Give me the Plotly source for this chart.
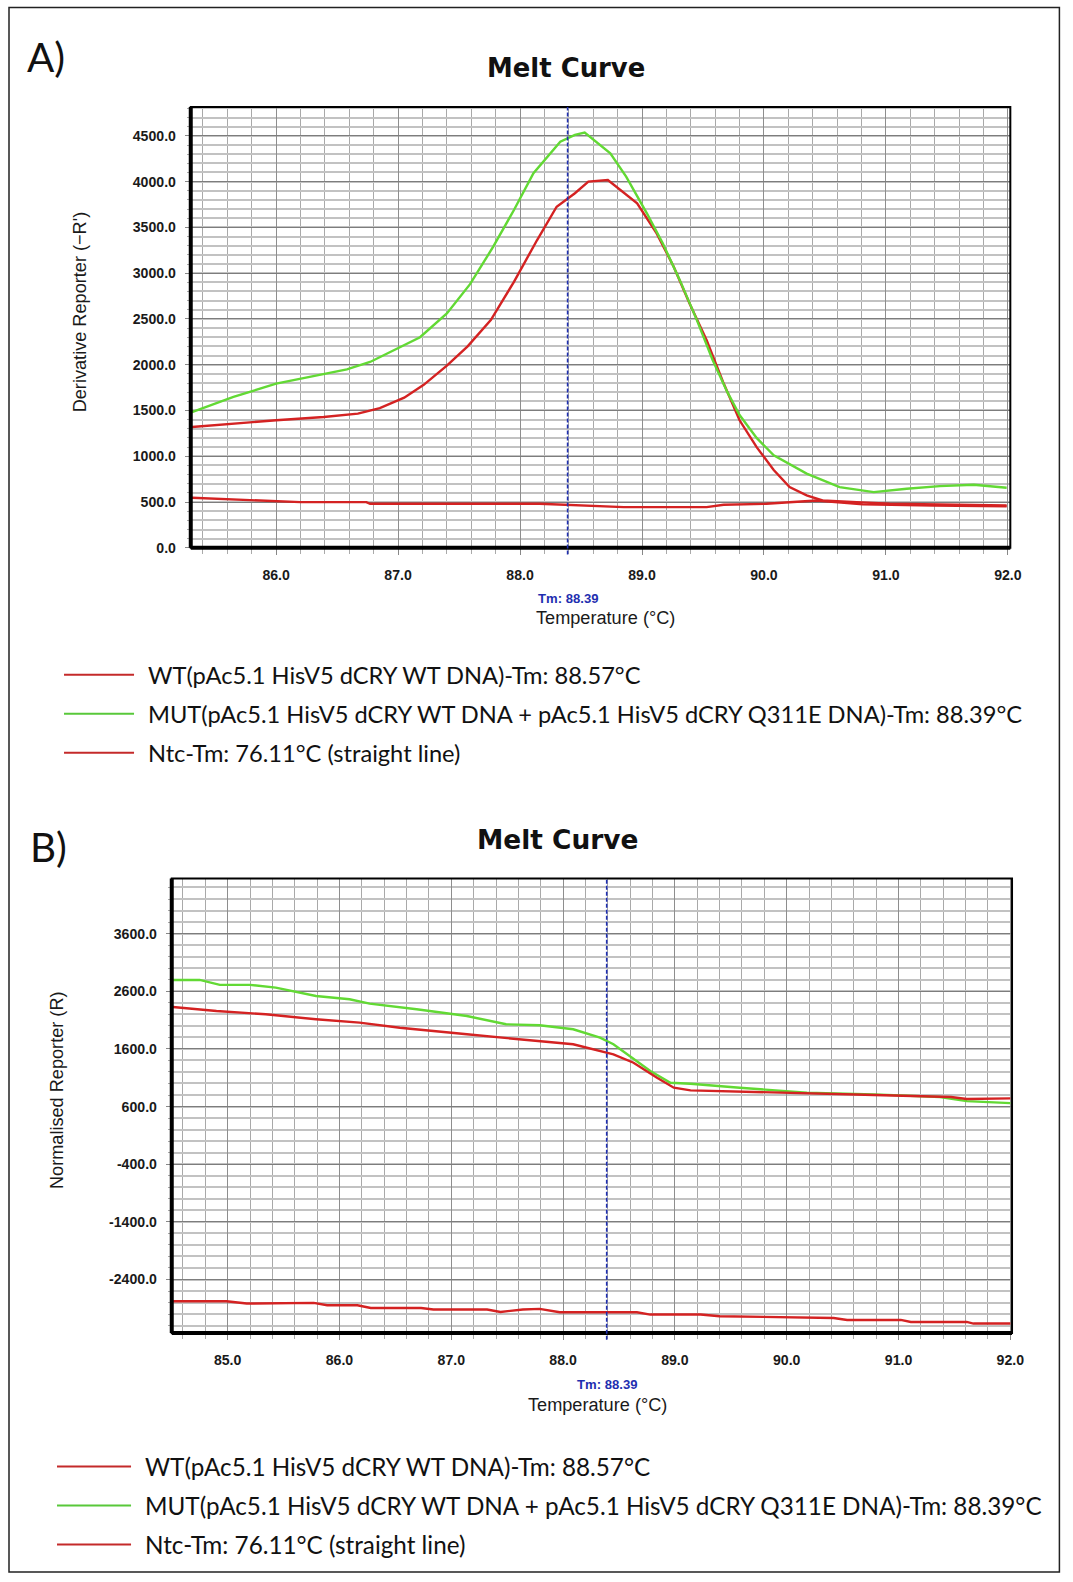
import plotly.graph_objects as go

W, H = 1073, 1582
# the captured page comes out very slightly reduced; positions below are given in
# target-picture pixels and converted with these factors
SX, SY = 0.9885, 0.994
FS = 1.0 / ((SX + SY) / 2)

# ---------------- data ----------------
TM = 88.39

# Panel A : derivative reporter (-R')
a_wt_t = [85.31, 85.65, 86.00, 86.39, 86.67, 86.85, 87.05, 87.21, 87.40, 87.57, 87.76, 87.95,
          88.14, 88.30, 88.45, 88.56, 88.72, 88.96, 89.12, 89.26, 89.39, 89.53, 89.67, 89.80,
          89.94, 90.08, 90.21, 90.35, 90.48, 90.76, 91.03, 91.44, 91.99]
a_wt_v = [1319, 1357, 1393, 1429, 1466, 1525, 1640, 1780, 1990, 2200, 2487, 2906,
          3362, 3726, 3873, 4000, 4018, 3763, 3435, 3070, 2669, 2268, 1794, 1393,
          1100, 850, 663, 572, 517, 499, 481, 474, 463]

a_mut_t = [85.31, 85.65, 86.00, 86.38, 86.58, 86.77, 87.00, 87.18, 87.40, 87.59, 87.78, 87.95,
           88.11, 88.33, 88.45, 88.53, 88.74, 88.87, 89.04, 89.17, 89.31, 89.45, 89.58, 89.70,
           89.80, 89.94, 90.08, 90.35, 90.62, 90.90, 91.17, 91.44, 91.72, 91.99]
a_mut_v = [1483, 1648, 1794, 1896, 1950, 2030, 2180, 2300, 2560, 2880, 3289, 3690,
           4091, 4437, 4511, 4536, 4310, 4054, 3654, 3326, 2924, 2487, 2049, 1700,
           1450, 1200, 1010, 810, 663, 608, 645, 674, 689, 656]

a_ntc_t = [85.31, 85.79, 86.00, 86.20, 86.74, 86.77, 87.95, 88.16, 88.85, 89.53, 89.67,
           90.02, 90.43, 90.62, 90.81, 91.39, 91.99]
a_ntc_v = [547, 525, 510, 499, 499, 481, 481, 481, 444, 444, 470,
           481, 517, 499, 474, 463, 453]

# Panel B : normalised reporter (R)
b_mut_t = [84.51, 84.75, 84.93, 85.20, 85.43, 85.58, 85.79, 86.09, 86.27, 86.69, 87.14, 87.49,
           87.79, 88.09, 88.33, 88.45, 88.63, 88.78, 88.96, 89.14, 89.58, 90.18, 90.78, 91.37,
           91.61, 92.00]
b_mut_v = [2796, 2796, 2710, 2710, 2663, 2605, 2518, 2461, 2385, 2287, 2171, 2027,
           2010, 1940, 1795, 1680, 1420, 1216, 1013, 996, 927, 840, 812, 765,
           695, 660]

b_wt_t = [84.51, 84.90, 85.34, 85.79, 86.18, 86.54, 87.14, 87.62, 87.79, 88.09, 88.45, 88.63,
          88.84, 88.99, 89.14, 89.88, 90.78, 91.47, 91.61, 92.00]
b_wt_v = [2327, 2258, 2200, 2114, 2055, 1968, 1853, 1767, 1740, 1680, 1506, 1360,
          1100, 927, 881, 840, 800, 765, 730, 741]

b_ntc_t = [84.51, 84.99, 85.17, 85.77, 85.89, 86.16, 86.28, 86.73, 86.84, 87.32, 87.44, 87.64,
           87.79, 87.97, 88.66, 88.78, 89.23, 89.40, 90.42, 90.54, 91.02, 91.11, 91.61, 91.67,
           92.00]
b_ntc_v = [-2777, -2777, -2817, -2806, -2846, -2846, -2893, -2893, -2921, -2921, -2962, -2921,
           -2910, -2968, -2968, -3008, -3008, -3037, -3067, -3101, -3101, -3136, -3136, -3164,
           -3164]

# tick labels
a_xticks = [86.0, 87.0, 88.0, 89.0, 90.0, 91.0, 92.0]
a_xlabels = ["86.0", "87.0", "88.0", "89.0", "90.0", "91.0", "92.0"]
a_yticks = [0, 500, 1000, 1500, 2000, 2500, 3000, 3500, 4000, 4500]
a_ylabels = ["0.0", "500.0", "1000.0", "1500.0", "2000.0", "2500.0", "3000.0", "3500.0", "4000.0", "4500.0"]
b_xticks = [85.0, 86.0, 87.0, 88.0, 89.0, 90.0, 91.0, 92.0]
b_xlabels = ["85.0", "86.0", "87.0", "88.0", "89.0", "90.0", "91.0", "92.0"]
b_yticks = [-2400, -1400, -400, 600, 1600, 2600, 3600]
b_ylabels = ["-2400.0", "-1400.0", "-400.0", "600.0", "1600.0", "2600.0", "3600.0"]

legend_labels = ["WT(pAc5.1 HisV5 dCRY WT DNA)-Tm: 88.57°C",
                 "MUT(pAc5.1 HisV5 dCRY WT DNA + pAc5.1 HisV5 dCRY Q311E DNA)-Tm: 88.39°C",
                 "Ntc-Tm: 76.11°C (straight line)"]

RED = "#d42222"
GREEN = "#62d934"
BLUE = "#1f2fb0"
legend_colors = ["#c42a2a", "#58c83a", "#c42a2a"]

# ---------------- figure ----------------
fig = go.Figure()


def px_x(p):
    return min(1.0, max(0.0, p / (SX * W)))


def px_y(p):
    return min(1.0, max(0.0, 1 - p / (SY * H)))


line_w = 2.4
for t, v, c in [(a_ntc_t, a_ntc_v, RED), (a_wt_t, a_wt_v, RED), (a_mut_t, a_mut_v, GREEN)]:
    fig.add_trace(go.Scatter(x=t, y=v, mode="lines", line=dict(color=c, width=line_w),
                             xaxis="x", yaxis="y", showlegend=False, hoverinfo="skip"))
for t, v, c in [(b_ntc_t, b_ntc_v, RED), (b_mut_t, b_mut_v, GREEN), (b_wt_t, b_wt_v, RED)]:
    fig.add_trace(go.Scatter(x=t, y=v, mode="lines", line=dict(color=c, width=line_w),
                             xaxis="x2", yaxis="y2", showlegend=False, hoverinfo="skip"))

tickfont = dict(family="Liberation Sans, Arial", size=14 * FS, color="#1a1a1a", weight="bold")


def xaxis_cfg(domain, anchor, rng, tv, tt):
    return dict(domain=domain, anchor=anchor, range=rng, tickmode="array", tickvals=tv, ticktext=tt,
                tickfont=tickfont, ticks="outside", ticklen=6, tickcolor="#888", tickwidth=1,
                ticklabelstandoff=8,
                showgrid=True, gridcolor="#8e8e8e", gridwidth=1, zeroline=False, showline=False,
                minor=dict(tickmode="linear", tick0=85.0, dtick=0.2, showgrid=True, gridcolor="#a9a9a9",
                           gridwidth=1, ticks="outside", ticklen=5, tickcolor="#aaa"),
                fixedrange=True)


def yaxis_cfg(domain, anchor, rng, tv, tt, mdt, m0):
    return dict(domain=domain, anchor=anchor, range=rng, tickmode="array", tickvals=tv, ticktext=tt,
                tickfont=tickfont, ticks="outside", ticklen=5, tickcolor="#888", tickwidth=1,
                ticklabelstandoff=6,
                showgrid=True, gridcolor="#7d7d7d", gridwidth=1, zeroline=False, showline=False,
                minor=dict(tickmode="linear", tick0=m0, dtick=mdt, showgrid=True, gridcolor="#c2c2c2",
                           gridwidth=1.6, ticks="outside", ticklen=3, tickcolor="#aaa"),
                fixedrange=True)


a_left, a_right, a_top, a_bot = 190.7, 1010.0, 107.0, 547.3
b_left, b_right, b_top, b_bot = 171.7, 1011.7, 877.7, 1331.7

fig.update_layout(
    width=W, height=H, autosize=False, margin=dict(l=0, r=0, t=0, b=0, pad=0),
    paper_bgcolor="white", plot_bgcolor="white",
    xaxis=xaxis_cfg([px_x(a_left), px_x(a_right)], "y", [85.30, 92.02], a_xticks, a_xlabels),
    yaxis=yaxis_cfg([px_y(a_bot), px_y(a_top)], "x", [0, 4814], a_yticks, a_ylabels, 100, 0),
    xaxis2=xaxis_cfg([px_x(b_left), px_x(b_right)], "y2", [84.50, 92.015], b_xticks, b_xlabels),
    yaxis2=yaxis_cfg([px_y(b_bot), px_y(b_top)], "x2", [-3327, 4555], b_yticks, b_ylabels, 200, -2400),
)

shapes = []
# plot frames
for xa, ya in [("x", "y"), ("x2", "y2")]:
    shapes.append(dict(type="rect", xref=xa + " domain", yref=ya + " domain", x0=0, x1=1, y0=0, y1=1,
                       line=dict(color="black", width=2), layer="above"))
    shapes.append(dict(type="line", xref=xa + " domain", yref=ya + " domain", x0=0, x1=0, y0=0, y1=1,
                       line=dict(color="black", width=4), layer="above"))
    shapes.append(dict(type="line", xref=xa + " domain", yref=ya + " domain", x0=0, x1=1, y0=0, y1=0,
                       line=dict(color="black", width=4), layer="above"))
    # Tm marker
    shapes.append(dict(type="line", xref=xa, yref=ya + " domain", x0=TM, x1=TM, y0=-0.015, y1=1,
                       line=dict(color=BLUE, width=1.6, dash="4px,2px"), layer="above"))

# outer border
shapes.append(dict(type="rect", xref="paper", yref="paper", x0=px_x(9), x1=0.9985,
                   y0=0.0012, y1=px_y(7.5), line=dict(color="#222", width=1.5)))

annotations = []
# legends (manual, to reproduce long swatches)
leg_a_rows = [674, 713, 752]
leg_b_rows = [1465, 1504, 1543]
for rows, sx0, sx1, tx, fs in [(leg_a_rows, 64, 134, 146, 23.45), (leg_b_rows, 57, 131, 143, 24.05)]:
    for r, lab, col in zip(rows, legend_labels, legend_colors):
        shapes.append(dict(type="line", xref="paper", yref="paper", x0=px_x(sx0), x1=px_x(sx1),
                           y0=px_y(r), y1=px_y(r), line=dict(color=col, width=2)))
        annotations.append(dict(xref="paper", yref="paper", x=px_x(tx), y=px_y(r), text=lab,
                                showarrow=False, xanchor="left", yanchor="middle",
                                font=dict(family="Lato, Liberation Sans", size=fs * FS, color="#111")))

# titles and panel letters
for txt, cx, cy, fsz in [("Melt Curve", 566, 68, 25.7), ("Melt Curve", 557, 839, 26.2)]:
    annotations.append(dict(xref="paper", yref="paper", x=px_x(cx), y=px_y(cy), text=txt, showarrow=False,
                            xanchor="center", yanchor="middle",
                            font=dict(family="DejaVu Sans", size=fsz * FS, color="#111", weight="bold")))
for txt, cx, cy in [("A)", 46, 56), ("B)", 48, 846)]:
    annotations.append(dict(xref="paper", yref="paper", x=px_x(cx), y=px_y(cy), text=txt, showarrow=False,
                            xanchor="center", yanchor="middle",
                            font=dict(family="Lato, Liberation Sans", size=40 * FS, color="#111")))

# axis titles
axfont = dict(family="Liberation Sans, Arial", size=18 * FS, color="#1a1a1a")
annotations.append(dict(xref="paper", yref="paper", x=px_x(605), y=px_y(617), text="Temperature (°C)",
                        showarrow=False, xanchor="center", yanchor="middle", font=axfont))
annotations.append(dict(xref="paper", yref="paper", x=px_x(597), y=px_y(1404), text="Temperature (°C)",
                        showarrow=False, xanchor="center", yanchor="middle", font=axfont))
annotations.append(dict(xref="paper", yref="paper", x=px_x(80), y=px_y(312), text="Derivative Reporter (−R')",
                        showarrow=False, xanchor="center", yanchor="middle", textangle=-90, font=axfont))
annotations.append(dict(xref="paper", yref="paper", x=px_x(57), y=px_y(1089), text="Normalised Reporter (R)",
                        showarrow=False, xanchor="center", yanchor="middle", textangle=-90, font=axfont))

# Tm labels
tmfont = dict(family="Liberation Sans, Arial", size=13 * FS, color=BLUE, weight="bold")
annotations.append(dict(xref="x", yref="paper", x=TM, y=px_y(598), text="Tm: 88.39", showarrow=False,
                        xanchor="center", yanchor="middle", font=tmfont))
annotations.append(dict(xref="x2", yref="paper", x=TM, y=px_y(1383), text="Tm: 88.39", showarrow=False,
                        xanchor="center", yanchor="middle", font=tmfont))

fig.update_layout(shapes=shapes, annotations=annotations)

fig.write_html(
    "out.html",
    config={"responsive": False},
    post_script="document.documentElement.style.margin='0';document.body.style.margin='0';"
                "document.documentElement.style.overflow='hidden';document.body.style.overflow='hidden';",
)
